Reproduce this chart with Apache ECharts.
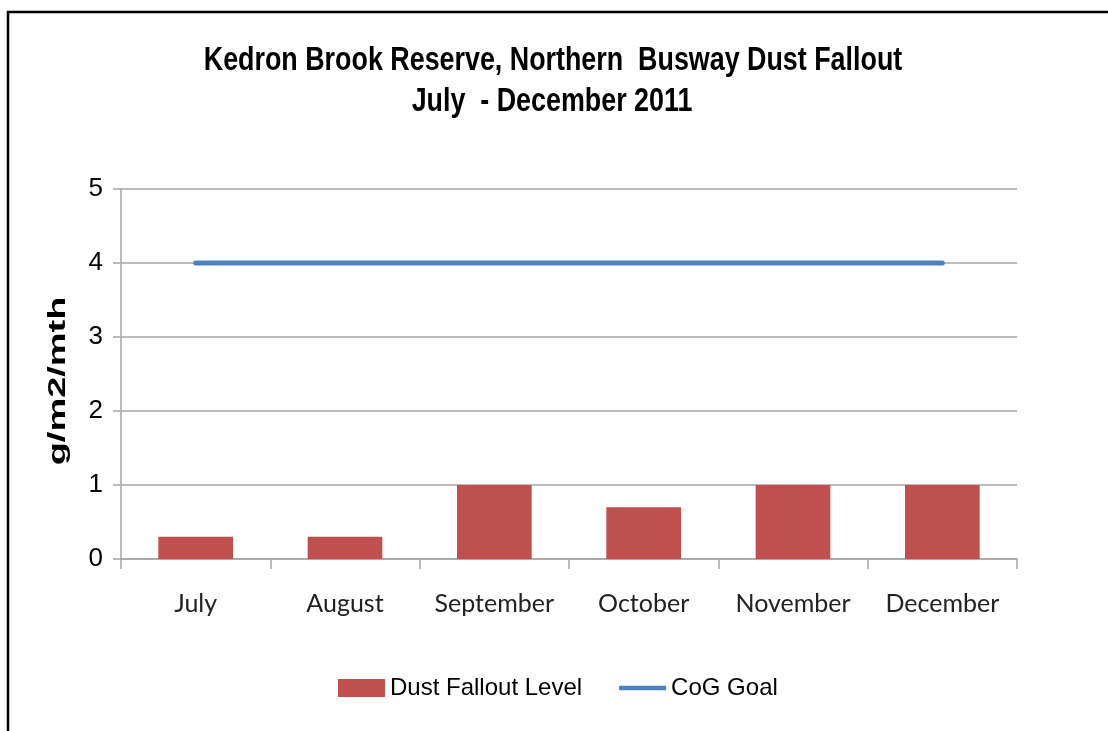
<!DOCTYPE html>
<html>
<head>
<meta charset="utf-8">
<style>
  html, body { margin: 0; padding: 0; background: #fff; }
  #chart { width: 1108px; height: 731px; }
</style>
<script src="https://cdn.jsdelivr.net/npm/echarts@6/dist/echarts.min.js"></script>
</head>
<body>
<div id="chart"></div>
<script>
var months = ["July", "August", "September", "October", "November", "December"];
var dustFallout = [0.3, 0.3, 1.0, 0.7, 1.0, 1.0];
var cogGoal = [4, 4, 4, 4, 4, 4];
var yTicks = [0, 1, 2, 3, 4, 5];
var titleLines = ["Kedron Brook Reserve, Northern  Busway Dust Fallout", "July  - December 2011"];

var chart = echarts.init(document.getElementById("chart"));

var gray = "#a6a6a6";

// the source picture is squeezed sideways, so the title and axis name are scaled texts
function squeezedText(str, x, y, font, rot, sx) {
  return {
    type: "text",
    x: x,
    y: y,
    rotation: rot,
    scaleX: sx,
    silent: true,
    style: {
      text: str,
      font: font,
      fill: "#000",
      textAlign: "center",
      textVerticalAlign: "middle",
      align: "center",
      verticalAlign: "middle"
    }
  };
}

var option = {
  backgroundColor: "#fff",
  animation: false,
  graphic: [
    {
      type: "rect",
      silent: true,
      shape: { x: 8, y: 12, width: 1300, height: 900 },
      style: { fill: null, stroke: "#000", lineWidth: 2.5 }
    },
    squeezedText(titleLines[0], 553, 61, 'bold 34px "Liberation Sans"', 0, 0.79),
    squeezedText(titleLines[1], 552, 102, 'bold 34px "Liberation Sans"', 0, 0.79),
    squeezedText("g/m2/mth", 59, 381, 'bold 23px "Liberation Sans"', Math.PI / 2, 1.65)
  ],
  legend: {
    left: 333,
    top: 671,
    itemWidth: 47,
    itemHeight: 18,
    itemGap: 37,
    textStyle: {
      fontFamily: "Liberation Sans",
      fontSize: 24,
      color: "#000"
    },
    data: [
      { name: "Dust Fallout Level", icon: "rect" },
      { name: "CoG Goal", icon: "path://M0,0 M50,18 M0,6.5 L50,6.5 L50,11.5 L0,11.5 Z" }
    ]
  },
  grid: {
    left: 121,
    right: 91,
    top: 189,
    bottom: 172
  },
  xAxis: {
    type: "category",
    data: months,
    boundaryGap: true,
    axisLine: { lineStyle: { color: gray, width: 1.5 } },
    axisTick: { show: true, length: 10, lineStyle: { color: gray, width: 1.5 } },
    axisLabel: {
      interval: 0,
      margin: 32,
      fontFamily: "Lato",
      fontSize: 25,
      color: "#222"
    }
  },
  yAxis: {
    type: "value",
    min: yTicks[0],
    max: yTicks[yTicks.length - 1],
    interval: 1,
    axisLine: { show: true, lineStyle: { color: gray, width: 1.5 } },
    axisTick: { show: true, length: 8, lineStyle: { color: gray, width: 1.5 } },
    splitLine: { show: true, lineStyle: { color: gray, width: 1.5 } },
    axisLabel: {
      margin: 18,
      fontFamily: "Liberation Sans",
      fontSize: 26,
      color: "#000"
    }
  },
  series: [
    {
      name: "Dust Fallout Level",
      type: "bar",
      data: dustFallout,
      barWidth: "50%",
      itemStyle: { color: "#c0504d" }
    },
    {
      name: "CoG Goal",
      type: "line",
      data: cogGoal,
      showSymbol: false,
      symbol: "none",
      lineStyle: { color: "#4f81bd", width: 5, cap: "round" },
      itemStyle: { color: "#4f81bd" }
    }
  ]
};

chart.setOption(option);
</script>
</body>
</html>
